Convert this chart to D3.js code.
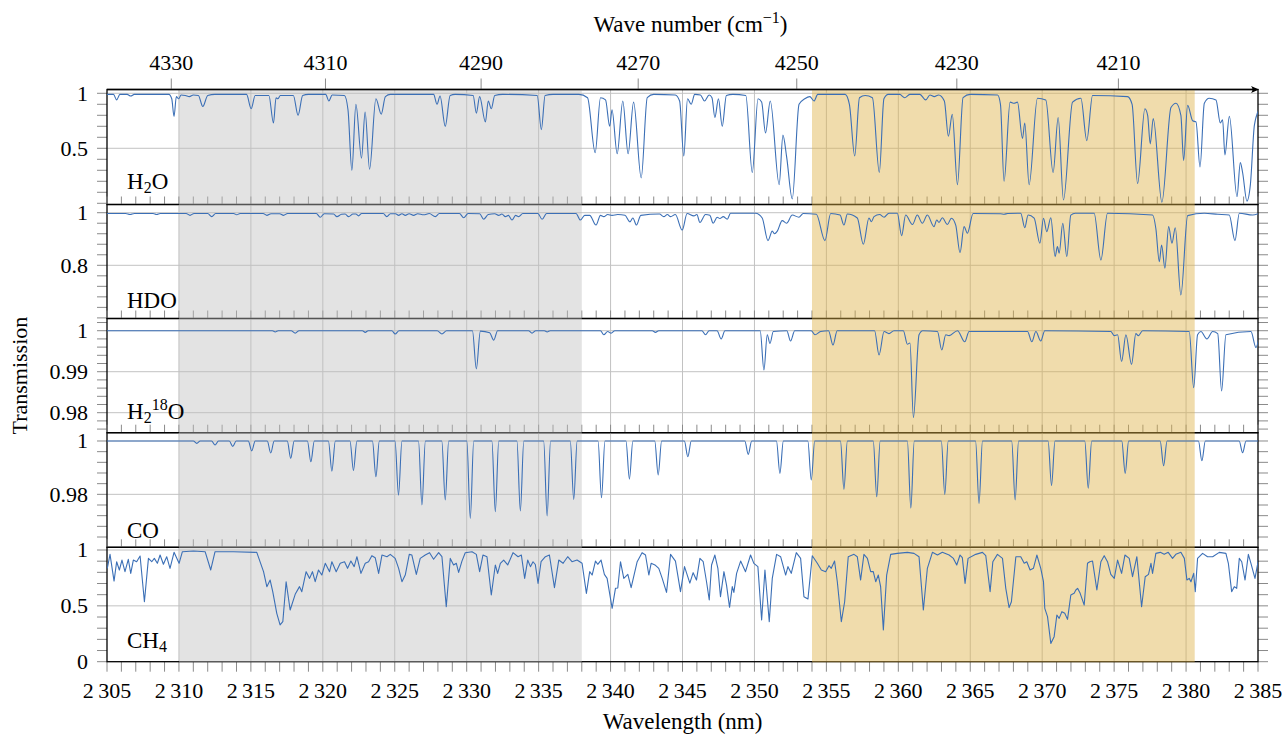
<!DOCTYPE html>
<html>
<head>
<meta charset="utf-8">
<script src="https://cdn.jsdelivr.net/npm/d3@7/dist/d3.min.js"></script>
<style>
  body { margin: 0; background: #fff; }
</style>
</head>
<body>
<script>
	var width = 1285;
	var height = 734;

	// tick labels
	var wavelengthTicks = [2305, 2310, 2315, 2320, 2325, 2330, 2335, 2340, 2345, 2350, 2355, 2360, 2365, 2370, 2375, 2380, 2385];
	var waveNumberTicks = [4330, 4310, 4290, 4270, 4250, 4230, 4210];
	var h2oTicks = [0.5, 1];
	var hdoTicks = [0.8, 1];
	var h218oTicks = [0.98, 0.99, 1];
	var coTicks = [0.98, 1];
	var ch4Ticks = [0, 0.5, 1];

	// shaded windows (nm)
	var grayWindow = [2310, 2338];
	var tanWindow = [2354, 2380.6];

	// spectra, [wavelength nm, transmission]
	var h2o = [
		[2305.0,0.99],[2305.45,0.99],[2305.67,0.94],[2305.9,0.99],[2306.4,0.99],[2306.65,0.975],[2306.9,0.99],
		[2309.3,0.99],[2309.5,0.95],[2309.66,0.79],[2309.82,0.97],[2309.98,0.95],[2310.15,0.985],[2310.45,0.98],[2310.73,0.97],[2311.0,0.985],[2311.35,0.98],[2311.66,0.88],[2312.0,0.98],[2312.5,0.99],
		[2314.7,0.99],[2315.02,0.86],[2315.3,0.98],[2316.25,0.98],[2316.57,0.73],[2316.75,0.96],[2316.87,0.95],[2317.05,0.98],[2317.95,0.98],[2318.28,0.80],[2318.6,0.98],[2319.0,0.99],
		[2320.2,0.99],[2320.42,0.93],[2320.65,0.985],[2321.5,0.98],[2321.75,0.85],[2322.02,0.30],[2322.3,0.90],[2322.69,0.41],[2322.94,0.83],[2323.25,0.31],[2323.69,0.95],[2324.06,0.81],[2324.35,0.97],[2324.7,0.99],
		[2327.7,0.99],[2327.94,0.90],[2328.15,0.975],[2328.51,0.70],[2328.85,0.98],[2329.2,0.99],[2330.45,0.98],[2330.67,0.82],[2330.9,0.97],[2331.30,0.74],[2331.5,0.93],[2331.71,0.86],[2331.95,0.98],[2332.5,0.99],
		[2334.9,0.98],[2335.19,0.67],[2335.45,0.98],[2336.0,0.99],[2337.8,0.99],[2338.4,0.96],[2338.93,0.46],[2339.3,0.96],[2339.65,0.94],[2339.94,0.70],[2340.1,0.85],[2340.46,0.45],[2340.85,0.93],[2341.22,0.45],[2341.6,0.92],[2342.13,0.23],[2342.55,0.96],[2343.0,0.99],
		[2344.5,0.985],[2344.8,0.93],[2345.09,0.43],[2345.35,0.95],[2345.6,0.90],[2345.85,0.99],[2346.25,0.985],[2346.53,0.93],[2346.85,0.985],[2347.05,0.96],[2347.25,0.78],[2347.5,0.95],[2347.76,0.70],[2348.05,0.98],[2348.5,0.99],
		[2349.4,0.98],[2349.85,0.28],[2350.25,0.95],[2350.5,0.92],[2350.77,0.64],[2351.1,0.93],[2351.72,0.17],[2351.98,0.62],[2352.24,0.42],[2352.63,0.04],[2353.1,0.90],[2353.5,0.95],[2353.85,0.97],[2354.14,0.93],[2354.4,0.99],
		[2356.3,0.99],[2356.6,0.90],[2356.97,0.43],[2357.3,0.96],[2357.7,0.98],[2358.2,0.96],[2358.68,0.28],[2359.0,0.95],[2359.3,0.99],[2360.1,0.99],[2360.44,0.96],[2360.8,0.99],[2361.5,0.99],[2361.9,0.94],[2362.2,0.985],[2362.5,0.97],[2362.8,0.985],[2363.2,0.93],[2363.48,0.61],[2363.75,0.81],[2364.11,0.17],[2364.5,0.96],[2365.0,0.99],
		[2366.9,0.985],[2367.1,0.9],[2367.35,0.20],[2367.77,0.92],[2368.05,0.91],[2368.28,0.92],[2368.63,0.59],[2368.79,0.73],[2369.09,0.17],[2369.67,0.955],[2370.25,0.94],[2370.76,0.28],[2371.11,0.78],[2371.48,0.03],[2372.11,0.92],[2372.69,0.955],[2373.1,0.57],[2373.5,0.98],
		[2375.93,0.97],[2376.25,0.9],[2376.63,0.18],[2377.14,0.86],[2377.33,0.8],[2377.51,0.54],[2377.72,0.77],[2378.32,0.01],[2378.95,0.87],[2379.3,0.91],[2379.64,0.8],[2379.83,0.39],[2380.11,0.89],[2380.46,0.75],[2380.69,0.74],[2380.97,0.33],[2381.27,0.91],[2381.61,0.955],[2382.08,0.94],[2382.38,0.73],[2382.54,0.76],[2382.7,0.44],[2383.01,0.79],[2383.54,0.06],[2383.77,0.37],[2383.93,0.28],[2384.23,0.02],[2384.47,0.17],[2384.75,0.71],[2385.1,0.86]
	];

	var hdo = [
		[2305.0,0.997],[2306.3,0.997],[2306.6,0.993],[2306.9,0.997],[2308.2,0.997],[2308.45,0.993],[2308.7,0.997],[2310.5,0.997],[2310.77,0.99],[2311.05,0.997],[2312.0,0.997],[2312.28,0.985],[2312.55,0.997],[2313.8,0.997],[2314.02,0.992],[2314.25,0.997],[2315.85,0.997],[2316.11,0.99],[2316.4,0.996],[2317.0,0.996],[2317.27,0.99],[2317.55,0.997],[2319.55,0.997],[2319.82,0.983],[2320.1,0.996],[2320.75,0.995],[2320.98,0.985],[2321.3,0.994],[2321.55,0.995],[2321.79,0.985],[2322.1,0.995],[2322.3,0.995],[2322.48,0.988],[2322.7,0.997],[2324.2,0.997],[2324.45,0.985],[2324.7,0.996],
		[2325.05,0.996],[2325.27,0.99],[2325.5,0.996],[2325.73,0.99],[2326.0,0.996],[2326.31,0.99],[2326.6,0.996],[2327.01,0.992],[2327.4,0.997],[2327.82,0.985],[2328.1,0.997],[2329.5,0.997],[2329.79,0.981],[2330.1,0.997],[2330.9,0.996],[2331.18,0.975],[2331.5,0.993],[2331.95,0.996],[2332.22,0.99],[2332.45,0.995],[2332.69,0.985],[2332.9,0.99],[2333.15,0.972],[2333.4,0.99],[2333.61,0.985],[2333.9,0.997],[2334.95,0.997],[2335.24,0.975],[2335.55,0.997],[2337.6,0.997],[2337.9,0.972],[2338.2,0.99],[2338.55,0.99],[2338.99,0.953],[2339.3,0.99],[2339.53,0.985],[2339.8,0.993],[2340.1,0.99],[2340.5,0.993],[2341.0,0.99],[2341.34,0.965],[2341.55,0.98],[2341.8,0.953],[2342.1,0.99],[2343.4,0.995],[2343.7,0.985],[2343.95,0.993],[2344.17,0.985],[2344.5,0.993],[2344.98,0.934],
		[2345.32,0.997],[2345.79,0.988],[2346.0,0.993],[2346.21,0.963],[2346.6,0.993],[2346.9,0.99],[2347.13,0.96],[2347.41,0.983],[2347.6,0.978],[2347.83,0.985],[2348.11,0.975],[2348.34,0.998],[2350.08,0.998],[2350.54,0.98],[2350.94,0.894],[2351.24,0.93],[2351.4,0.92],[2351.59,0.93],[2351.93,0.97],[2352.23,0.96],[2352.63,0.991],[2353.09,0.983],[2353.39,0.997],[2354.3,0.994],[2354.9,0.894],[2355.3,0.997],[2355.95,0.991],[2356.22,0.953],[2356.46,0.995],[2357.15,0.98],[2357.57,0.88],[2357.96,0.98],[2358.13,0.966],[2358.31,0.985],[2358.7,0.993],[2359.01,0.983],[2359.35,0.998],[2359.93,0.998],[2360.23,0.913],[2360.51,0.991],[2360.98,0.955],[2361.32,0.991],[2361.67,0.96],[2362.02,0.991],[2362.48,0.947],[2362.67,0.972],[2362.83,0.963],[2363.06,0.981],[2363.41,0.955],[2363.69,0.979],[2363.99,0.953],[2364.29,0.848],[2364.57,0.947],[2364.8,0.922],[2365.2,0.997],
		[2367.1,0.996],[2367.35,0.994],[2367.6,0.997],[2368.51,0.998],[2368.79,0.943],[2369.02,0.991],[2369.44,0.979],[2369.84,0.884],[2370.09,0.979],[2370.32,0.928],[2370.6,0.981],[2370.9,0.833],[2371.06,0.871],[2371.18,0.846],[2371.43,0.96],[2371.71,0.833],[2371.99,0.991],[2372.3,0.998],[2373.61,0.998],[2374.08,0.82],[2374.54,0.998],[2377.67,0.991],[2377.9,0.94],[2378.14,0.814],[2378.3,0.877],[2378.53,0.789],[2378.79,0.947],[2379.02,0.884],[2379.25,0.943],[2379.64,0.687],[2380.11,0.989],[2381.27,0.998],[2382.2,0.994],[2383.0,0.991],[2383.4,0.894],[2383.7,0.998],[2384.63,0.991],[2385.09,0.998]
	];

	var h218o = [
		[2305.0,1.0],[2316.5,1.0],[2316.69,0.9997],[2316.9,1.0],[2317.8,1.0],[2318.08,0.9994],[2318.35,1.0],[2322.75,1.0],[2322.95,0.9996],[2323.15,1.0],[2324.8,1.0],[2325.03,0.9992],[2325.3,1.0],[2327.95,1.0],[2328.28,0.9992],[2328.6,1.0],[2330.4,1.0],[2330.67,0.9907],[2330.95,0.9999],[2331.6,0.9995],[2331.88,0.9977],[2332.15,1.0],[2334.3,1.0],[2334.54,0.9994],[2334.8,1.0],[2335.4,1.0],[2335.59,0.9997],[2335.8,1.0],[2339.3,1.0],[2339.53,0.999],[2339.8,0.9998],[2340.04,0.9994],[2340.3,1.0],[2342.9,1.0],[2343.12,0.9996],[2343.35,1.0],
		[2346.35,1.0],[2346.6,0.999],[2346.85,1.0],[2347.4,1.0],[2347.69,0.998],[2347.95,1.0],[2350.4,1.0],[2350.66,0.9904],[2350.89,0.999],[2351.08,0.9969],[2351.31,0.9998],[2352.25,1.0],[2352.51,0.9975],[2352.8,1.0],[2353.95,1.0],[2354.21,0.999],[2354.6,0.9998],[2355.15,1.0],[2355.46,0.9965],[2355.75,1.0],[2358.35,1.0],[2358.66,0.9941],[2359.01,0.9998],[2359.35,0.9993],[2359.7,1.0],[2360.35,1.0],[2360.63,0.9967],[2360.81,0.997],[2361.05,0.9788],[2361.44,0.999],[2361.7,1.0],[2362.72,0.9998],[2363.02,0.9953],[2363.3,0.999],[2363.53,0.9988],[2364.11,1.0],[2364.62,0.9973],[2364.92,0.9998],
		[2368.98,0.9998],[2369.28,0.9973],[2369.56,0.9998],[2369.9,0.9975],[2370.18,1.0],[2374.77,0.9998],[2375.0,0.9988],[2375.24,0.999],[2375.52,0.9925],[2375.82,0.999],[2376.21,0.9918],[2376.51,0.9993],[2376.68,0.9988],[2376.98,1.0],[2380.22,0.9998],[2380.53,0.9861],[2380.8,0.999],[2381.03,0.9998],[2381.45,0.998],[2381.85,0.9998],[2382.2,0.9993],[2382.47,0.9853],[2382.77,0.999],[2384.51,0.9998],[2384.86,0.9959],[2385.09,0.999]
	];

	var co = [
		[2305,1.0],
		[2311.0,1.0],[2311.24,0.9991],[2311.48,1.0],
		[2312.27,1.0],[2312.51,0.9985],[2312.75,1.0],
		[2313.5,1.0],[2313.74,0.998],[2313.98,1.0],
		[2314.82,1.0],[2315.06,0.9963],[2315.3,1.0],
		[2316.14,1.0],[2316.38,0.9955],[2316.62,1.0],
		[2317.53,1.0],[2317.77,0.9935],[2318.01,1.0],
		[2318.93,1.0],[2319.17,0.9922],[2319.41,1.0],
		[2320.39,1.0],[2320.63,0.9887],[2320.87,1.0],
		[2321.89,1.0],[2322.13,0.9889],[2322.37,1.0],
		[2323.45,1.0],[2323.69,0.9866],[2323.93,1.0],
		[2325.02,1.0],[2325.26,0.9797],[2325.5,1.0],
		[2326.65,1.0],[2326.89,0.976],[2327.13,1.0],
		[2328.27,1.0],[2328.51,0.9779],[2328.75,1.0],
		[2330.01,1.0],[2330.25,0.971],[2330.49,1.0],
		[2331.75,1.0],[2331.99,0.9735],[2332.23,1.0],
		[2333.49,1.0],[2333.73,0.9738],[2333.97,1.0],
		[2335.35,1.0],[2335.59,0.9719],[2335.83,1.0],
		[2337.2,1.0],[2337.44,0.9781],[2337.68,1.0],
		[2339.13,1.0],[2339.37,0.9787],[2339.61,1.0],
		[2341.07,1.0],[2341.31,0.9857],[2341.55,1.0],
		[2343.07,1.0],[2343.31,0.9873],[2343.55,1.0],
		[2345.13,1.0],[2345.37,0.9941],[2345.61,1.0],
		[2349.33,1.0],[2349.57,0.995],[2349.81,1.0],
		[2351.53,1.0],[2351.77,0.9879],[2352.01,1.0],
		[2353.71,1.0],[2353.95,0.9854],[2354.19,1.0],
		[2355.98,1.0],[2356.22,0.9819],[2356.46,1.0],
		[2358.26,1.0],[2358.5,0.9791],[2358.74,1.0],
		[2360.63,1.0],[2360.87,0.9748],[2361.11,1.0],
		[2362.99,1.0],[2363.23,0.98],[2363.47,1.0],
		[2365.37,1.0],[2365.61,0.9766],[2365.85,1.0],
		[2367.88,1.0],[2368.12,0.9779],[2368.36,1.0],
		[2370.41,1.0],[2370.65,0.9833],[2370.89,1.0],
		[2372.96,1.0],[2373.2,0.9823],[2373.44,1.0],
		[2375.53,1.0],[2375.77,0.9879],[2376.01,1.0],
		[2378.2,1.0],[2378.44,0.9907],[2378.68,1.0],
		[2380.86,1.0],[2381.1,0.9926],[2381.34,1.0],
		[2383.69,1.0],[2383.93,0.9956],[2384.17,1.0],
		[2385,1.0]
	];

	var ch4 = [
		[2305.02,0.836],[2305.21,0.961],[2305.49,0.722],[2305.67,0.895],[2305.86,0.821],[2306.04,0.910],[2306.25,0.806],[2306.48,0.917],[2306.65,0.791],[2306.83,0.910],[2307.06,0.895],[2307.30,0.946],[2307.60,0.537],[2307.88,0.925],[2308.11,0.895],[2308.29,0.925],[2308.50,0.881],[2308.69,0.955],[2308.92,0.872],[2309.15,0.940],[2309.38,0.836],[2309.66,0.979],[2310.01,0.881],[2310.24,0.985],[2311.01,0.991],[2311.82,0.985],[2312.21,0.821],[2312.51,0.985],[2313.79,0.985],[2315.41,0.979],[2315.88,0.806],[2316.11,0.672],[2316.34,0.731],[2316.52,0.627],[2316.80,0.433],[2317.03,0.329],[2317.22,0.358],[2317.45,0.716],[2317.73,0.463],[2318.08,0.603],[2318.38,0.672],[2318.54,0.627],[2318.84,0.806],[2319.08,0.746],[2319.28,0.806],[2319.47,0.716],[2319.70,0.821],[2319.93,0.776],[2320.17,0.881],[2320.47,0.806],[2320.63,0.895],[2320.93,0.806],[2321.21,0.881],[2321.51,0.895],[2321.72,0.836],[2321.95,0.901],[2322.18,0.851],[2322.37,0.940],[2322.65,0.791],[2322.95,0.881],[2323.18,0.895],[2323.41,0.949],[2323.64,0.931],[2323.88,0.791],[2324.11,0.955],[2324.46,0.940],[2324.69,0.961],
		[2325.03,0.925],[2325.27,0.836],[2325.50,0.716],[2325.73,0.776],[2326.01,0.961],[2326.19,0.955],[2326.50,0.782],[2326.77,0.925],[2327.12,0.955],[2327.42,0.976],[2327.70,0.917],[2328.05,0.976],[2328.28,0.940],[2328.58,0.492],[2328.86,0.925],[2329.09,0.866],[2329.28,0.881],[2329.44,0.80],[2329.67,0.90],[2329.90,0.976],[2330.37,0.985],[2330.67,0.961],[2330.90,0.806],[2331.13,0.955],[2331.41,0.94],[2331.71,0.597],[2331.99,0.866],[2332.15,0.791],[2332.34,0.881],[2332.57,0.910],[2332.85,0.866],[2333.22,0.976],[2333.57,0.940],[2333.80,0.955],[2334.03,0.746],[2334.24,0.910],[2334.43,0.851],[2334.61,0.895],[2334.77,0.87],[2334.96,0.701],[2335.17,0.895],[2335.47,0.940],[2335.75,0.955],[2336.10,0.663],[2336.40,0.910],[2336.70,0.881],[2337.02,0.940],[2337.32,0.895],[2337.67,0.910],[2338.02,0.881],[2338.32,0.612],[2338.55,0.806],[2338.72,0.776],[2338.95,0.901],[2339.11,0.872],[2339.34,0.910],[2339.57,0.782],[2339.76,0.746],[2340.11,0.478],[2340.34,0.657],[2340.50,0.66],[2340.69,0.895],[2340.92,0.746],[2341.20,0.782],[2341.43,0.663],[2341.66,0.791],[2341.85,0.895],[2342.19,0.976],[2342.43,0.955],[2342.66,0.776],[2342.82,0.881],[2343.12,0.863],[2343.35,0.836],[2343.59,0.746],[2343.89,0.621],[2344.17,0.961],[2344.51,0.901],[2344.86,0.627],
		[2345.14,0.851],[2345.32,0.78],[2345.51,0.704],[2345.74,0.797],[2345.97,0.731],[2346.21,0.925],[2346.44,0.895],[2346.67,0.716],[2346.86,0.552],[2347.02,0.866],[2347.25,0.955],[2347.46,0.836],[2347.64,0.582],[2347.88,0.806],[2348.06,0.686],[2348.27,0.487],[2348.46,0.672],[2348.57,0.62],[2348.76,0.791],[2349.04,0.901],[2349.38,0.806],[2349.73,0.955],[2349.96,0.88],[2350.24,0.851],[2350.50,0.373],[2350.73,0.821],[2351.03,0.358],[2351.24,0.746],[2351.54,0.961],[2351.82,0.94],[2352.17,0.776],[2352.33,0.851],[2352.56,0.791],[2352.91,0.976],[2353.21,0.925],[2353.44,0.582],[2353.72,0.561],[2354.02,0.949],[2354.37,0.881],[2354.65,0.821],[2354.95,0.806],[2355.18,0.86],[2355.34,0.836],[2355.57,0.901],[2355.76,0.716],[2356.04,0.358],[2356.27,0.537],[2356.52,0.940],[2356.92,0.961],[2357.15,0.94],[2357.38,0.731],[2357.61,0.961],[2357.85,0.925],[2358.08,0.806],[2358.26,0.806],[2358.43,0.716],[2358.61,0.776],[2358.77,0.672],[2358.96,0.284],[2359.19,0.776],[2359.47,0.961],[2359.93,0.97],[2360.63,0.979],[2361.09,0.97],[2361.44,0.940],[2361.74,0.463],[2362.02,0.836],[2362.37,0.979],[2362.72,0.955],[2363.06,0.979],[2363.53,0.955],[2363.83,0.925],[2364.06,0.866],[2364.29,0.955],[2364.45,0.931],[2364.64,0.701],[2364.85,0.925],
		[2365.38,0.961],[2365.85,0.979],[2366.08,0.949],[2366.24,0.776],[2366.38,0.627],[2366.57,0.895],[2366.89,0.961],[2367.24,0.925],[2367.47,0.657],[2367.70,0.484],[2367.86,0.537],[2368.17,0.940],[2368.51,0.940],[2368.75,0.881],[2368.93,0.895],[2369.16,0.821],[2369.39,0.836],[2369.63,0.955],[2369.90,0.836],[2370.09,0.716],[2370.18,0.478],[2370.37,0.403],[2370.60,0.164],[2370.83,0.224],[2371.02,0.418],[2371.18,0.388],[2371.37,0.448],[2371.57,0.433],[2371.76,0.379],[2371.99,0.597],[2372.22,0.612],[2372.34,0.642],[2372.46,0.657],[2372.64,0.612],[2372.92,0.507],[2373.15,0.881],[2373.31,0.895],[2373.50,0.901],[2373.80,0.642],[2374.08,0.895],[2374.31,0.949],[2374.54,0.895],[2374.77,0.782],[2375.01,0.746],[2375.24,0.910],[2375.52,0.791],[2375.75,0.955],[2376.05,0.925],[2376.28,0.761],[2376.58,0.940],[2376.91,0.492],[2377.16,0.761],[2377.39,0.782],[2377.56,0.881],[2377.67,0.791],[2377.90,0.970],[2378.21,0.979],[2378.48,0.961],[2378.76,0.979],[2379.06,0.925],[2379.29,0.961],[2379.64,0.979],[2379.88,0.925],[2380.06,0.731],[2380.22,0.746],[2380.34,0.716],[2380.53,0.791],[2380.64,0.627],[2380.80,0.925],[2381.15,0.970],[2381.49,0.940],[2381.85,0.940],[2382.31,0.979],[2382.77,0.970],[2382.94,0.881],[2383.17,0.627],[2383.35,0.672],[2383.52,0.657],[2383.70,0.925],[2383.87,0.895],[2384.10,0.731],[2384.33,0.961],[2384.51,0.881],[2384.79,0.746],[2385.09,0.955]
	];

	// panel layout (pixels) and y ranges
	var panels = [
		{ id: "h2o",   data: h2o,   top: 89.5,  bottom: 204.5, ymin: -0.011,  ymax: 1.0345,  ticks: h2oTicks,   step: 0.1,   labelY: 189.3, curve: d3.curveMonotoneX },
		{ id: "hdo",   data: hdo,   top: 204.5, bottom: 318.5, ymin: 0.5977,  ymax: 1.0312,  ticks: hdoTicks,   step: 0.04,  labelY: 308.3, curve: d3.curveMonotoneX },
		{ id: "h218o", data: h218o, top: 318.5, bottom: 432.7, ymin: 0.97512, ymax: 1.00298, ticks: h218oTicks, step: 0.002, labelY: 419.3, curve: d3.curveMonotoneX },
		{ id: "co",    data: co,    top: 432.7, bottom: 547.3, ymin: 0.96014, ymax: 1.00311, ticks: coTicks,    step: 0.004, labelY: 537.7, curve: d3.curveMonotoneX },
		{ id: "ch4",   data: ch4,   top: 547.3, bottom: 661.7, ymin: 0,       ymax: 1.0242,  ticks: ch4Ticks,   step: 0.1,   labelY: 648.3, curve: d3.curveLinear }
	];

	var left = 107, right = 1258;
	var gridColor = "#c2c2c2";
	var tickColor = "#8a8a8a";
	var lineColor = "#3b6fb6";
	var serif = "'Liberation Serif', 'DejaVu Serif', 'Noto Serif', 'Tinos', 'Nimbus Roman', 'FreeSerif', 'Times New Roman', Times, serif";

	var x = d3.scaleLinear().domain([2305, 2385]).range([left, right]);

	var svg = d3.select("body")
		.append("svg")
		.attr("width", width)
		.attr("height", height)
		.style("font-family", serif);

	var axes = svg.append("g");
	var shade = svg.append("g");
	var lines = svg.append("g");
	var labels = svg.append("g");

	var minorX = d3.range(2305, 2386, 1);

	function vline(g, xs, y1, y2, color) {
		g.append("g").selectAll("line")
			.data(xs)
			.enter()
			.append("line")
			.attr("x1", function(d) { return x(d); })
			.attr("x2", function(d) { return x(d); })
			.attr("y1", y1)
			.attr("y2", y2)
			.attr("stroke", color)
			.attr("stroke-width", 1);
	}

	function hline(g, ys, scale, x1, x2, color) {
		g.append("g").selectAll("line")
			.data(ys)
			.enter()
			.append("line")
			.attr("x1", x1)
			.attr("x2", x2)
			.attr("y1", function(d) { return scale(d); })
			.attr("y2", function(d) { return scale(d); })
			.attr("stroke", color)
			.attr("stroke-width", 1);
	}

	panels.forEach(function(p, i) {
		p.y = d3.scaleLinear().domain([p.ymin, p.ymax]).range([p.bottom, p.top]);

		// grid
		vline(axes, wavelengthTicks.slice(1, -1), p.top, p.bottom, gridColor);
		hline(axes, p.ticks.filter(function(t) { return p.y(t) < p.bottom - 1; }), p.y, left, right, gridColor);

		// y ticks, outside on both sides
		var k0 = Math.ceil(p.ymin / p.step - 1e-6), k1 = Math.floor(p.ymax / p.step + 1e-6);
		var minorY = d3.range(k0, k1 + 1).map(function(k) { return +(k * p.step).toFixed(4); });
		hline(axes, minorY, p.y, left - 10, left, tickColor);
		hline(axes, minorY, p.y, right, right + 10, tickColor);

		// x ticks above the top edge of panels 2-5, below the last panel
		if (i > 0) vline(axes, minorX, p.top - 8, p.top, tickColor);
		if (i == panels.length - 1) vline(axes, minorX, p.bottom, p.bottom + 10, tickColor);

		// y tick labels
		labels.append("g").selectAll("text")
			.data(p.ticks)
			.enter()
			.append("text")
			.attr("x", 88)
			.attr("y", function(d) { return p.y(d); })
			.attr("dy", "0.34em")
			.attr("text-anchor", "end")
			.attr("font-size", 22)
			.text(function(d) { return String(d); });

		// panel frame
		axes.append("rect")
			.attr("x", left)
			.attr("y", p.top)
			.attr("width", right - left)
			.attr("height", p.bottom - p.top)
			.attr("fill", "none")
			.attr("stroke", "#000")
			.attr("stroke-width", 1.3);

		// clip + spectrum
		svg.append("clipPath")
			.attr("id", "clip-" + p.id)
			.append("rect")
			.attr("x", left)
			.attr("y", p.top)
			.attr("width", right - left)
			.attr("height", p.bottom - p.top);

		var line = d3.line()
			.x(function(d) { return x(d[0]); })
			.y(function(d) { return p.y(d[1]); })
			.curve(p.curve);

		lines.append("path")
			.datum(p.data)
			.attr("clip-path", "url(#clip-" + p.id + ")")
			.attr("fill", "none")
			.attr("stroke", lineColor)
			.attr("stroke-width", 1.1)
			.attr("stroke-linejoin", "round")
			.attr("d", line);
	});

	// top wave number axis
	var topY = panels[0].top;
	vline(axes, waveNumberTicks.map(function(d) { return 1e7 / d; }), topY - 11, topY, tickColor);

	labels.append("g").selectAll("text")
		.data(waveNumberTicks)
		.enter()
		.append("text")
		.attr("x", function(d) { return x(1e7 / d); })
		.attr("y", 70)
		.attr("text-anchor", "middle")
		.attr("font-size", 22)
		.text(function(d) { return d; });

	// shaded windows drawn over grid and frame
	var shadeTop = topY + 0.7, shadeBottom = panels[4].bottom + 0.6;
	shade.append("rect")
		.attr("x", x(grayWindow[0]))
		.attr("width", x(grayWindow[1]) - x(grayWindow[0]))
		.attr("y", shadeTop)
		.attr("height", shadeBottom - shadeTop)
		.attr("fill", "#c0c0c0")
		.attr("fill-opacity", 0.44);

	shade.append("rect")
		.attr("x", x(tanWindow[0]))
		.attr("width", x(tanWindow[1]) - x(tanWindow[0]))
		.attr("y", shadeTop)
		.attr("height", shadeBottom - shadeTop)
		.attr("fill", "#deb247")
		.attr("fill-opacity", 0.45);

	// top axis line with arrow
	labels.append("line")
		.attr("x1", left)
		.attr("x2", right - 2)
		.attr("y1", topY)
		.attr("y2", topY)
		.attr("stroke", "#000")
		.attr("stroke-width", 1.3);
	labels.append("path")
		.attr("d", "M" + (right + 1) + "," + topY + " L" + (right - 7) + "," + (topY - 3.5) + " Q" + (right - 4) + "," + topY + " " + (right - 7) + "," + (topY + 3.5) + " Z")
		.attr("fill", "#000");

	// bottom tick labels
	labels.append("g").selectAll("text")
		.data(wavelengthTicks)
		.enter()
		.append("text")
		.attr("x", function(d) { return x(d); })
		.attr("y", 698)
		.attr("text-anchor", "middle")
		.attr("font-size", 22)
		.text(function(d) { return Math.floor(d / 1000) + "\u2009" + (d % 1000); });

	// panel labels
	function rich(sel, parts) {
		parts.forEach(function(pt) {
			var t = sel.append("tspan").text(pt[0]);
			if (pt[1]) t.attr("dy", pt[1]);
			if (pt[2]) t.attr("font-size", pt[2]);
		});
	}
	var names = [
		[["H"], ["2", 3.5, 16], ["O", -3.5]],
		[["HDO"]],
		[["H"], ["2", 3.5, 16], ["18", -12.5, 16], ["O", 9]],
		[["CO"]],
		[["CH"], ["4", 3.5, 16]]
	];
	panels.forEach(function(p, i) {
		var t = labels.append("text")
			.attr("x", 127)
			.attr("y", p.labelY)
			.attr("font-size", 23);
		rich(t, names[i]);
	});

	// axis titles
	labels.append("text")
		.attr("x", (left + right) / 2)
		.attr("y", 729)
		.attr("text-anchor", "middle")
		.attr("font-size", 23)
		.text("Wavelength (nm)");

	var wt = labels.append("text")
		.attr("x", (left + right) / 2 + 8)
		.attr("y", 32)
		.attr("text-anchor", "middle")
		.attr("font-size", 23);
	rich(wt, [["Wave number (cm"], ["\u22121", -9, 16], [")", 9]]);

	labels.append("text")
		.attr("transform", "translate(27," + ((panels[0].top + panels[4].bottom) / 2) + ") rotate(-90)")
		.attr("text-anchor", "middle")
		.attr("font-size", 22)
		.text("Transmission");
</script>
</body>
</html>
